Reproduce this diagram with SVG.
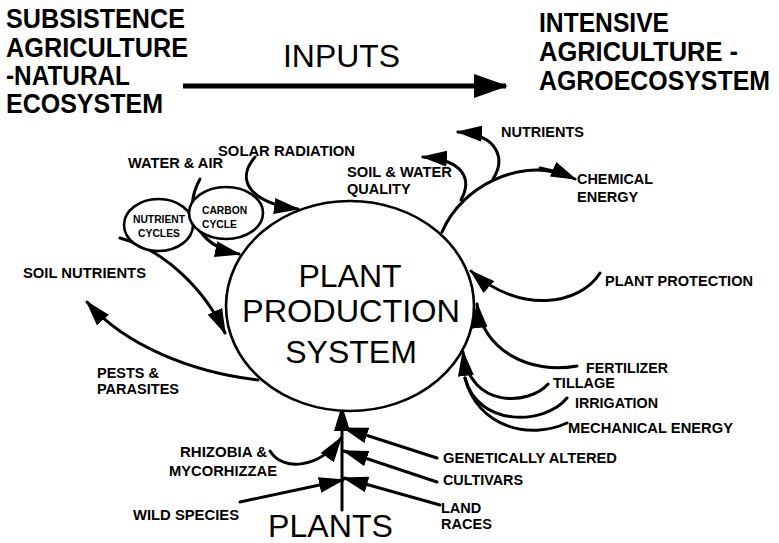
<svg xmlns="http://www.w3.org/2000/svg" width="779" height="543" viewBox="0 0 779 543">
<style>
.hd{font-family:"Liberation Sans",Arial,sans-serif;font-weight:bold;font-size:27px;fill:#000}
.big{font-family:"Liberation Sans",Arial,sans-serif;font-size:32px;fill:#000}
.lb{font-family:"Liberation Sans",Arial,sans-serif;font-weight:bold;font-size:14.5px;fill:#000}
.sm{font-family:"Liberation Sans",Arial,sans-serif;font-weight:bold;font-size:10.3px;fill:#000}
.ln{fill:none;stroke:#000;stroke-width:3;stroke-linecap:round}
.arr{marker-end:url(#ah)}
.shape{fill:#fff;stroke:#000;stroke-width:2.6}
</style>
<defs>
<marker id="ah" markerUnits="userSpaceOnUse" viewBox="0 0 26 16" markerWidth="26" markerHeight="16" refX="24" refY="8" orient="auto">
<path d="M0,0 L26,8 L0,16 z" fill="#000"/>
</marker>
<marker id="ahb" markerUnits="userSpaceOnUse" viewBox="0 0 34 24" markerWidth="34" markerHeight="24" refX="32" refY="12" orient="auto">
<path d="M0,0 L34,12 L0,24 z" fill="#000"/>
</marker>
</defs>
<rect width="779" height="543" fill="#fff"/>

<g id="connectors">
<path d="M183,86 L506,86" fill="none" stroke="#000" stroke-width="5" marker-end="url(#ahb)"/>
<path class="ln arr" d="M255,157 C235,180 250,203 298,209"/>
<path class="ln arr" d="M200,179 C183,210 195,245 239,254"/>
<path class="ln arr" d="M120,238 C165,250 205,290 225,333"/>
<path class="ln arr" d="M258,380 C190,372 125,345 87,302"/>
<path class="ln" d="M442,232 C462,185 520,160 560,174"/>
<path class="ln arr" d="M540,168 C555,171 566,175 575,179"/>
<path class="ln arr" d="M461,200 C472,180 465,160 423,157"/>
<path class="ln arr" d="M493,179 C505,160 500,135 458,132"/>
<path class="ln arr" d="M600,273 C580,305 520,315 471,271"/>
<path class="ln arr" d="M577,366 C530,375 482,350 477,304"/>
<path class="ln arr" d="M548,384 C530,405 470,410 463,352"/>
<path class="ln" d="M567,398 C545,425 478,428 465,378"/>
<path class="ln" d="M567,423 C530,440 478,428 465,378"/>
<path class="ln arr" d="M342,510 L342,407"/>
<path class="ln arr" d="M270,451 C283,472 320,468 341,438"/>
<path class="ln arr" d="M437,458 L344,428"/>
<path class="ln arr" d="M437,482 L344,451"/>
<path class="ln arr" d="M440,505 L344,478"/>
<path class="ln arr" d="M240,502 L343,480"/>
</g>

<g id="header-left">
<text class="hd" x="6" y="28" textLength="179" lengthAdjust="spacingAndGlyphs">SUBSISTENCE</text>
<text class="hd" x="6" y="57" textLength="182" lengthAdjust="spacingAndGlyphs">AGRICULTURE</text>
<text class="hd" x="6" y="85" textLength="124" lengthAdjust="spacingAndGlyphs">-NATURAL</text>
<text class="hd" x="6" y="113" textLength="157" lengthAdjust="spacingAndGlyphs">ECOSYSTEM</text>
</g>
<g id="inputs">
<text class="big" x="283" y="67" font-size="30" textLength="117" lengthAdjust="spacingAndGlyphs">INPUTS</text>
</g>
<g id="header-right">
<text class="hd" x="539" y="32" font-size="25" textLength="130" lengthAdjust="spacingAndGlyphs">INTENSIVE</text>
<text class="hd" x="539" y="61" font-size="25" textLength="199" lengthAdjust="spacingAndGlyphs">AGRICULTURE -</text>
<text class="hd" x="539" y="90" font-size="25" textLength="231" lengthAdjust="spacingAndGlyphs">AGROECOSYSTEM</text>
</g>

<g id="plant-production-system">
<ellipse class="shape" cx="350" cy="306" rx="124" ry="105"/>
<text class="big" x="350" y="287" text-anchor="middle">PLANT</text>
<text class="big" x="351" y="322" text-anchor="middle" textLength="218" lengthAdjust="spacingAndGlyphs">PRODUCTION</text>
<text class="big" x="351" y="363" text-anchor="middle">SYSTEM</text>
</g>

<g id="nutrient-cycles">
<ellipse class="shape" cx="158.5" cy="225" rx="34.5" ry="26"/>
<text class="sm" x="159" y="223" text-anchor="middle">NUTRIENT</text>
<text class="sm" x="159" y="237" text-anchor="middle">CYCLES</text>
</g>
<g id="carbon-cycle">
<ellipse class="shape" cx="226" cy="213" rx="37" ry="26"/>
<text class="sm" x="202" y="214">CARBON</text>
<text class="sm" x="202" y="228">CYCLE</text>
</g>

<g id="water-air"><text class="lb" x="128" y="168" textLength="95" lengthAdjust="spacingAndGlyphs">WATER &amp; AIR</text></g>
<g id="solar-radiation"><text class="lb" x="218" y="156" textLength="137" lengthAdjust="spacingAndGlyphs">SOLAR RADIATION</text></g>
<g id="soil-nutrients"><text class="lb" x="23" y="278" textLength="123" lengthAdjust="spacingAndGlyphs">SOIL NUTRIENTS</text></g>
<g id="pests-parasites">
<text class="lb" x="97" y="378">PESTS &amp;</text>
<text class="lb" x="97" y="394" textLength="82" lengthAdjust="spacingAndGlyphs">PARASITES</text>
</g>
<g id="soil-water-quality">
<text class="lb" x="347" y="177" textLength="105" lengthAdjust="spacingAndGlyphs">SOIL &amp; WATER</text>
<text class="lb" x="347" y="194">QUALITY</text>
</g>
<g id="nutrients"><text class="lb" x="501" y="137" textLength="83" lengthAdjust="spacingAndGlyphs">NUTRIENTS</text></g>
<g id="chemical-energy">
<text class="lb" x="577" y="184" textLength="76" lengthAdjust="spacingAndGlyphs">CHEMICAL</text>
<text class="lb" x="577" y="202">ENERGY</text>
</g>
<g id="plant-protection"><text class="lb" x="605" y="286" textLength="148" lengthAdjust="spacingAndGlyphs">PLANT PROTECTION</text></g>
<g id="fertilizer"><text class="lb" x="586" y="373" textLength="82" lengthAdjust="spacingAndGlyphs">FERTILIZER</text></g>
<g id="tillage"><text class="lb" x="553" y="388" textLength="62" lengthAdjust="spacingAndGlyphs">TILLAGE</text></g>
<g id="irrigation"><text class="lb" x="575" y="408" textLength="83" lengthAdjust="spacingAndGlyphs">IRRIGATION</text></g>
<g id="mechanical-energy"><text class="lb" x="568" y="433" textLength="165" lengthAdjust="spacingAndGlyphs">MECHANICAL ENERGY</text></g>
<g id="genetically-altered"><text class="lb" x="443" y="463" textLength="174" lengthAdjust="spacingAndGlyphs">GENETICALLY ALTERED</text></g>
<g id="cultivars"><text class="lb" x="443" y="485" textLength="80" lengthAdjust="spacingAndGlyphs">CULTIVARS</text></g>
<g id="land-races">
<text class="lb" x="441" y="513">LAND</text>
<text class="lb" x="441" y="529" textLength="51" lengthAdjust="spacingAndGlyphs">RACES</text>
</g>
<g id="rhizobia">
<text class="lb" x="180" y="457" textLength="87" lengthAdjust="spacingAndGlyphs">RHIZOBIA &amp;</text>
<text class="lb" x="169" y="476" textLength="108" lengthAdjust="spacingAndGlyphs">MYCORHIZZAE</text>
</g>
<g id="wild-species"><text class="lb" x="133" y="520" textLength="106" lengthAdjust="spacingAndGlyphs">WILD SPECIES</text></g>
<g id="plants"><text class="big" x="268" y="537" textLength="125" lengthAdjust="spacingAndGlyphs">PLANTS</text></g>
</svg>
